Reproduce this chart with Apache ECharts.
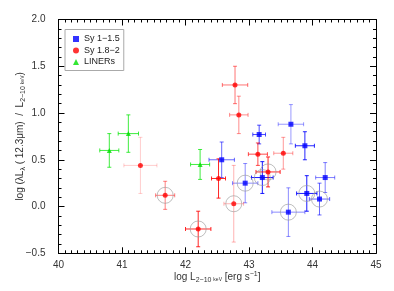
<!DOCTYPE html>
<html><head><meta charset="utf-8">
<script src="https://cdn.jsdelivr.net/npm/echarts@6/dist/echarts.min.js"></script>
<style>html,body{margin:0;padding:0;background:#fff}#c{width:394px;height:291px}</style>
</head><body><div id="c"></div>
<script>
// Sy 1-1.5
const sy1X = [42.57, 42.94, 43.16, 43.21, 43.66, 43.88, 43.62, 43.91, 44.11, 44.20];
const sy1Y = [0.50, 0.25, 0.77, 0.31, 0.88, 0.65, -0.06, 0.14, 0.08, 0.31];
const sy1XErr = [0.20, 0.20, 0.10, 0.17, 0.20, 0.15, 0.26, 0.16, 0.16, 0.15];
const sy1YErr = [0.19, 0.21, 0.10, 0.17, 0.21, 0.15, 0.26, 0.19, 0.17, 0.16];
const sy1Circled = [0, 1, 0, 1, 0, 0, 1, 1, 1, 0];
const sy1Alpha = [0.6, 0.45, 0.7, 0.9, 0.4, 0.85, 0.45, 0.9, 0.6, 0.5];
// Sy 1.8-2
const sy2X = [41.29, 41.68, 42.20, 42.52, 42.76, 42.78, 42.84, 43.14, 43.30, 43.54];
const sy2Y = [0.44, 0.12, -0.24, 0.30, 0.03, 1.30, 0.98, 0.56, 0.37, 0.57];
const sy2XErr = [0.26, 0.15, 0.20, 0.11, 0.155, 0.20, 0.145, 0.15, 0.19, 0.15];
const sy2YErr = [0.30, 0.15, 0.19, 0.21, 0.41, 0.20, 0.20, 0.12, 0.16, 0.17];
const sy2Circled = [0, 1, 1, 0, 1, 0, 0, 0, 1, 0];
const sy2Alpha = [0.2, 0.5, 0.85, 0.85, 0.3, 0.55, 0.45, 0.7, 0.85, 0.4];
// LINERs
const linX = [40.80, 41.10, 42.23];
const linY = [0.60, 0.78, 0.45];
const linXErr = [0.15, 0.16, 0.15];
const linYErr = [0.18, 0.20, 0.16];
const linAlpha = [0.75, 0.75, 0.75];

const xTicks = [40, 41, 42, 43, 44, 45];
const yTicks = [-0.5, 0.0, 0.5, 1.0, 1.5, 2.0];

function rows(X, Y, XE, YE, A) { return X.map((x, i) => [x, Y[i], XE[i], YE[i], A[i]]); }
function circ(X, Y, C) { const o = []; X.forEach((x, i) => { if (C[i]) o.push([x, Y[i]]); }); return o; }

function errRender(rgb) {
  return function (params, api) {
    const x = api.value(0), y = api.value(1), xe = api.value(2), ye = api.value(3), a = api.value(4);
    const l = api.coord([x - xe, y]), r = api.coord([x + xe, y]);
    const t = api.coord([x, y + ye]), b = api.coord([x, y - ye]);
    const cap = 2;
    const st = { stroke: 'rgba(' + rgb + ',' + a + ')', lineWidth: 1 };
    const ln = (x1, y1, x2, y2) => ({ type: 'line', shape: { x1, y1, x2, y2 }, style: st });
    return { type: 'group', children: [
      ln(l[0], l[1], r[0], r[1]),
      ln(l[0], l[1] - cap, l[0], l[1] + cap),
      ln(r[0], r[1] - cap, r[0], r[1] + cap),
      ln(t[0], t[1], b[0], b[1]),
      ln(t[0] - cap, t[1], t[0] + cap, t[1]),
      ln(b[0] - cap, b[1], b[0] + cap, b[1])
    ] };
  };
}

const axBase = {
  type: 'value',
  axisLine: { show: true, onZero: false, lineStyle: { color: '#000', width: 1 } },
  axisTick: { show: true, inside: true, length: 6, lineStyle: { color: '#000' } },
  minorTick: { show: true, length: 3, lineStyle: { color: '#000' } },
  splitLine: { show: false },
  axisLabel: { color: '#333', fontFamily: 'Liberation Sans', fontSize: 10 }
};
const fmt1 = v => (v < 0 ? '\u2212' + Math.abs(v).toFixed(1) : v.toFixed(1));

const chart = echarts.init(document.getElementById('c'), null, { renderer: 'canvas' });
chart.setOption({
  animation: false,
  backgroundColor: '#fff',
  grid: { left: 58.5, right: 18, top: 19.5, bottom: 37.7, containLabel: false, outerBoundsMode: 'none' },
  xAxis: [
    Object.assign({}, axBase, { min: xTicks[0], max: xTicks[xTicks.length - 1], interval: 1, position: 'bottom',
      minorTick: Object.assign({}, axBase.minorTick, { splitNumber: 10 }),
      axisLabel: Object.assign({}, axBase.axisLabel, { margin: 7 }),
      name: '{t|log L}{s|2\u221210 }{k|keV}{t| [erg s}{p|\u22121}{t|]}',
      nameLocation: 'middle', nameGap: 17, nameMoveOverlap: false,
      nameTextStyle: { color: '#333', fontFamily: 'Liberation Sans', rich: {
        t: { fontSize: 10, fontFamily: 'Liberation Sans', color: '#333' },
        s: { fontSize: 7, fontFamily: 'Liberation Sans', color: '#333', padding: [6, 0, 0, 0] },
        k: { fontSize: 5, fontFamily: 'Liberation Sans', color: '#333', padding: [6, 0, 0, 0] },
        p: { fontSize: 7, fontFamily: 'Liberation Sans', color: '#333', padding: [0, 0, 6, 0] }
      } } }),
    Object.assign({}, axBase, { min: xTicks[0], max: xTicks[xTicks.length - 1], interval: 1, position: 'top',
      minorTick: Object.assign({}, axBase.minorTick, { splitNumber: 10 }),
      axisLabel: { show: false } })
  ],
  yAxis: [
    Object.assign({}, axBase, { min: yTicks[0], max: yTicks[yTicks.length - 1], interval: 0.5, position: 'left',
      minorTick: Object.assign({}, axBase.minorTick, { splitNumber: 5 }),
      axisLabel: Object.assign({}, axBase.axisLabel, { margin: 13, formatter: fmt1 }),
      name: '{t|log (\u03bbL}{s|\u03bb}{t| ( 12.3\u03bcm)  /  L}{s|2\u221210 }{k|keV}{t|)}',
      nameLocation: 'middle', nameGap: 32, nameRotate: 90, nameMoveOverlap: false,
      nameTextStyle: { color: '#333', fontFamily: 'Liberation Sans', rich: {
        t: { fontSize: 10, fontFamily: 'Liberation Sans', color: '#333' },
        s: { fontSize: 7, fontFamily: 'Liberation Sans', color: '#333', padding: [6, 0, 0, 0] },
        k: { fontSize: 5, fontFamily: 'Liberation Sans', color: '#333', padding: [6, 0, 0, 0] }
      } } }),
    Object.assign({}, axBase, { min: yTicks[0], max: yTicks[yTicks.length - 1], interval: 0.5, position: 'right',
      minorTick: Object.assign({}, axBase.minorTick, { splitNumber: 5 }),
      axisLabel: { show: false } })
  ],
  legend: {
    data: [{ name: 'Sy 1\u22121.5', icon: 'rect' }, { name: 'Sy 1.8\u22122', icon: 'circle' }, { name: 'LINERs', icon: 'triangle' }],
    orient: 'vertical', left: 65, top: 29.5,
    padding: [4, 4, 3, 8], itemGap: 0.5, itemWidth: 6, itemHeight: 6,
    borderColor: '#aaa', borderWidth: 1, backgroundColor: '#fff',
    textStyle: { fontFamily: 'Liberation Sans', fontSize: 9, color: '#222', lineHeight: 11 }
  },
  series: [
    { type: 'custom', renderItem: errRender('0,0,255'), data: rows(sy1X, sy1Y, sy1XErr, sy1YErr, sy1Alpha), encode: { x: 0, y: 1 }, z: 1, silent: true },
    { type: 'custom', renderItem: errRender('255,0,0'), data: rows(sy2X, sy2Y, sy2XErr, sy2YErr, sy2Alpha), encode: { x: 0, y: 1 }, z: 1, silent: true },
    { type: 'custom', renderItem: errRender('0,230,0'), data: rows(linX, linY, linXErr, linYErr, linAlpha), encode: { x: 0, y: 1 }, z: 1, silent: true },
    { name: 'circles', type: 'scatter', symbol: 'circle', symbolSize: 16, z: 3,
      data: circ(sy1X, sy1Y, sy1Circled).concat(circ(sy2X, sy2Y, sy2Circled)),
      itemStyle: { color: 'rgba(0,0,0,0)', borderColor: '#999', borderWidth: 0.8 } },
    { name: 'Sy 1\u22121.5', type: 'scatter', symbol: 'rect', symbolSize: 5, z: 4,
      data: sy1X.map((x, i) => [x, sy1Y[i]]), itemStyle: { color: '#0000ff' } },
    { name: 'Sy 1.8\u22122', type: 'scatter', symbol: 'circle', symbolSize: 5, z: 4,
      data: sy2X.map((x, i) => [x, sy2Y[i]]), itemStyle: { color: '#ff0000' } },
    { name: 'LINERs', type: 'scatter', symbol: 'triangle', symbolSize: 5, z: 4,
      data: linX.map((x, i) => [x, linY[i]]), itemStyle: { color: '#00e000' } }
  ]
});
</script></body></html>
